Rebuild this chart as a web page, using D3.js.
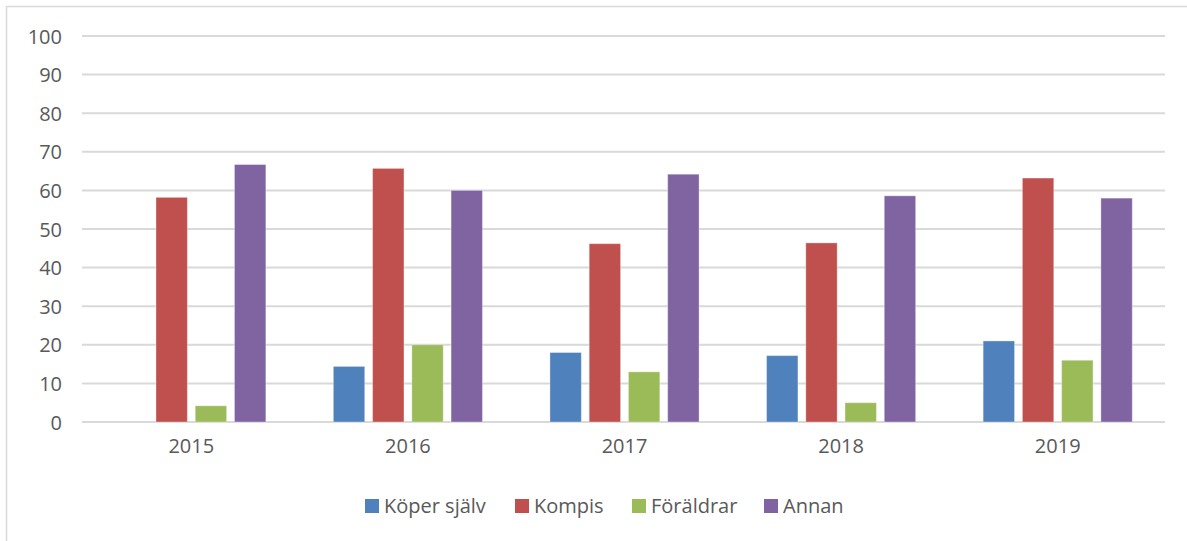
<!DOCTYPE html>
<html>
<head>
<meta charset="utf-8">
<script src="https://cdn.jsdelivr.net/npm/d3@7/dist/d3.min.js"></script>
<style>
  html, body { margin: 0; padding: 0; background: #fff; }
  svg { display: block; }
  text { font-family: "Open Sans", sans-serif; fill: #595959; }
</style>
</head>
<body>
<svg id="chart" width="1187" height="541"></svg>
<script>
const years = ["2015", "2016", "2017", "2018", "2019"];
const seriesNames = ["Köper själv", "Kompis", "Föräldrar", "Annan"];
const koperSjalv = [0, 14.4, 18.0, 17.2, 21.0];
const kompis = [58.2, 65.7, 46.2, 46.4, 63.2];
const foraldrar = [4.2, 20.0, 13.0, 5.0, 16.0];
const annan = [66.7, 60.0, 64.2, 58.6, 58.0];
const yTicks = [0, 10, 20, 30, 40, 50, 60, 70, 80, 90, 100];
const colors = ["#4F81BD", "#C0504D", "#9BBB59", "#8064A2"];

const seriesValues = [koperSjalv, kompis, foraldrar, annan];

const svg = d3.select("#chart");

// frame
svg.append("path")
  .attr("d", "M6.5,541 L6.5,6.5 L1187,6.5")
  .attr("fill", "none").attr("stroke", "#d9d9d9").attr("stroke-width", 1.5);

const x = d3.scaleBand().domain(years).range([83, 1166]).padding(0);
const xi = d3.scaleBand().domain(seriesNames).range([0, x.bandwidth()])
  .paddingInner(0.2).paddingOuter(0.86);
const y = d3.scaleLinear().domain([0, 100]).range([422, 36]);

// gridlines
svg.append("g").selectAll("line").data(yTicks).join("line")
  .attr("x1", 82).attr("x2", 1165)
  .attr("y1", d => y(d)).attr("y2", d => y(d))
  .attr("stroke", "#d9d9d9").attr("stroke-width", 2);

// y labels
const yAxis = d3.axisLeft(y).tickValues(yTicks).tickSize(0).tickPadding(0);
const yg = svg.append("g").attr("transform", "translate(62,0)").call(yAxis);
yg.select(".domain").remove();
yg.selectAll("text").attr("font-size", 20).attr("fill", "#595959")
  .attr("font-family", "'Open Sans', sans-serif").attr("dy", "0.35em");

// x labels
const xAxis = d3.axisBottom(x).tickSize(0).tickPadding(0);
const xg = svg.append("g").attr("transform", "translate(0,439)").call(xAxis);
xg.select(".domain").remove();
xg.selectAll("text").attr("font-size", 20).attr("fill", "#595959")
  .attr("font-family", "'Open Sans', sans-serif").attr("dy", "0.71em");

// bars
const groups = svg.append("g").selectAll("g").data(seriesNames).join("g")
  .attr("fill", (d, i) => colors[i]);
groups.each(function (s, si) {
  d3.select(this).selectAll("rect")
    .data(seriesValues[si].map((v, yi) => ({ year: years[yi], v })))
    .join("rect")
    .filter(d => d.v > 0)
    .attr("x", d => x(d.year) + xi(s))
    .attr("width", xi.bandwidth())
    .attr("y", d => y(d.v))
    .attr("height", d => y(0) - y(d.v))
    .attr("stroke", "rgba(255,255,255,0.35)")
    .attr("stroke-width", 1);
});

// legend
const legendX = [365, 515, 632, 764];
const lg = svg.append("g").selectAll("g").data(seriesNames).join("g")
  .attr("transform", (d, i) => `translate(${legendX[i]},499)`);
lg.append("rect").attr("width", 14).attr("height", 14).attr("fill", (d, i) => colors[i]);
lg.append("text").attr("x", 19).attr("y", 14).attr("font-size", 20).text(d => d);
</script>
</body>
</html>
